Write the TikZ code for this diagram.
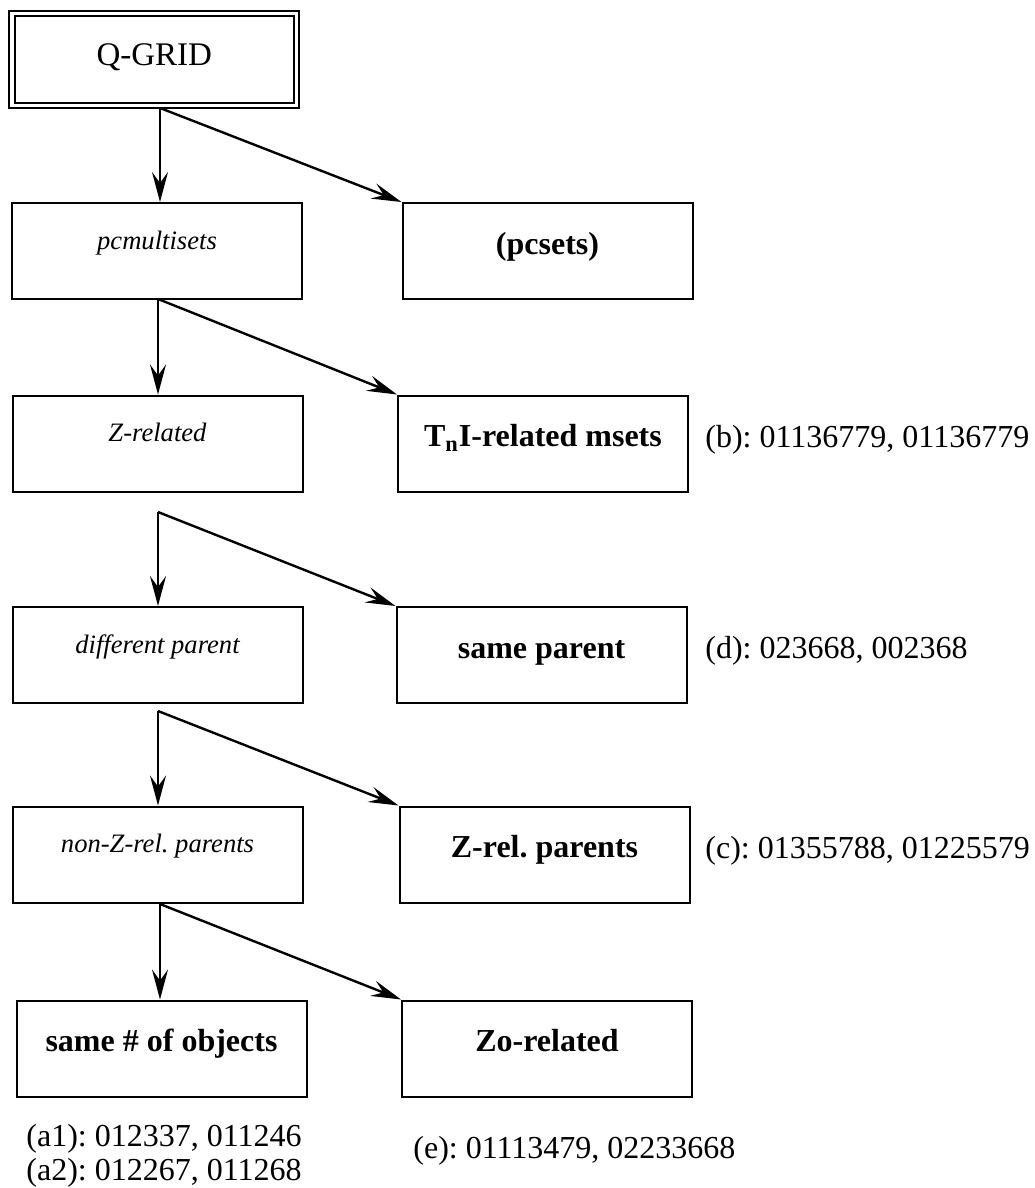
\documentclass[tikz,border=0pt]{standalone}
\usepackage{fontspec}
\setmainfont{Liberation Serif}
\usetikzlibrary{arrows.meta}
\frenchspacing
\begin{document}
\begin{tikzpicture}[x=0.5pt,y=-0.5pt,
  box/.style={draw, line width=1pt, minimum width=145pt, minimum height=48pt,
    inner sep=0pt, text height=0pt, text depth=0pt},
  itbox/.style={box, font=\fontsize{13.3}{15}\selectfont\itshape, text depth=2pt},
  bfbox/.style={box, font=\fontsize{16}{19}\selectfont\bfseries, text height=3pt},
  lab/.style={font=\fontsize{16}{19}\selectfont, anchor=base west, inner sep=0pt},
  arr/.style={line width=1.2pt, -{Stealth[length=15pt,width=8pt,inset=5.5pt]}}]
\useasboundingbox (0,0) rectangle (1034,1188);

% top box (double border)
\node[box, double, double distance=1.75pt, minimum width=142.25pt, minimum height=46pt,
  text height=6pt, font=\fontsize{16.5}{19}\selectfont] (qg) at (154.25,59.5) {Q-GRID};

% boxes
\node[itbox] (pcm) at (157,251) {pcmultisets};
\node[bfbox] (pcs) at (547.5,251) {(pcsets)};
\node[itbox] (zrel) at (157.5,443.5) {Z-related};
\node[bfbox] (tni) at (543,443.5) {T\textsubscript{n}I-related msets};
\node[itbox] (dp) at (157.5,655) {different parent};
\node[bfbox] (sp) at (541.5,655) {same parent};
\node[itbox] (nz) at (157.5,854.5) {non-Z-rel. parents};
\node[bfbox] (zp) at (544.5,854.5) {Z-rel. parents};
\node[bfbox] (sn) at (161.5,1048.5) {same \# of objects};
\node[bfbox] (zo) at (547,1048.5) {Zo-related};

% labels
\node[lab] (lb) at (705,447) {(b): 01136779, 01136779};
\node[lab] (ld) at (705,658) {(d): 023668, 002368};
\node[lab] (lc) at (705,858) {(c): 01355788, 01225579};
\node[lab] (la1) at (26,1146) {(a1): 012337, 011246};
\node[lab] (la2) at (26,1180) {(a2): 012267, 011268};
\node[lab] (le) at (413,1158) {(e): 01113479, 02233668};

% branch points
\coordinate (s0) at (160,108);
\coordinate (s1) at (158,299);
\coordinate (s2) at (158,512);
\coordinate (s3) at (158,711);
\coordinate (s4) at (160,904);

% connectors
\draw[arr] (s0) -- (s0 |- pcm.north);
\draw[arr] (s0) -- (pcs.north west);
\draw[arr] (s1) -- (s1 |- zrel.north);
\draw[arr] (s1) -- (tni.north west);
\draw[arr] (s2) -- (s2 |- dp.north);
\draw[arr] (s2) -- (sp.north west);
\draw[arr] (s3) -- (s3 |- nz.north);
\draw[arr] (s3) -- (zp.north west);
\draw[arr] (s4) -- (s4 |- sn.north);
\draw[arr] (s4) -- (zo.north west);
\end{tikzpicture}
\end{document}
